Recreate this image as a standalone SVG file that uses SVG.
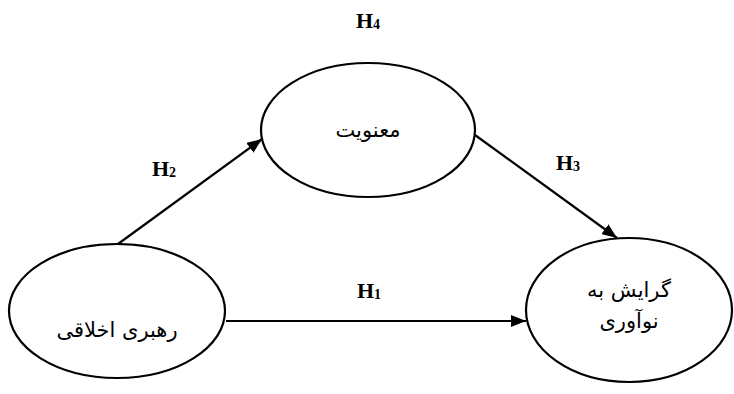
<svg xmlns="http://www.w3.org/2000/svg" width="734" height="394" viewBox="0 0 734 394">
<style>
.node{fill:#fff;stroke:#000;stroke-width:2.2}
.lbl{font-family:"DejaVu Sans",sans-serif;font-size:21px;fill:#000;text-anchor:middle}
.h{font-family:"Liberation Serif",serif;font-size:22px;font-weight:bold;fill:#000;text-anchor:middle}
.sub{font-size:14px}
.edge{stroke:#000;stroke-width:2.2;fill:none;marker-end:url(#arr)}
</style>
<defs>
<marker id="arr" markerWidth="15" markerHeight="12" refX="15" refY="6" orient="auto" markerUnits="userSpaceOnUse" viewBox="0 0 15 12">
<path d="M0,0 L15,6 L0,12 Z" fill="#000"/>
</marker>
</defs>
<g id="connectors">
<line class="edge" x1="118" y1="244" x2="262" y2="139"/>
<line class="edge" x1="475" y1="135" x2="617" y2="238"/>
<line class="edge" x1="226" y1="321" x2="526" y2="321"/>
</g>
<g id="node-spirituality">
<ellipse class="node" cx="368" cy="130" rx="107" ry="67"/>
<text class="lbl" x="368" y="137">معنویت</text>
</g>
<g id="node-ethical-leadership">
<ellipse class="node" cx="117" cy="311" rx="108" ry="67"/>
<text class="lbl" x="117" y="337">رهبری اخلاقی</text>
</g>
<g id="node-innovation">
<ellipse class="node" cx="629" cy="310" rx="103" ry="72"/>
<text class="lbl" x="629" y="297">گرایش به</text>
<text class="lbl" x="629" y="328">نوآوری</text>
</g>
<g id="labels">
<text class="h" x="368" y="28">H<tspan class="sub" dy="1">4</tspan></text>
<text class="h" x="164" y="176">H<tspan class="sub" dy="1">2</tspan></text>
<text class="h" x="568" y="170">H<tspan class="sub" dy="1">3</tspan></text>
<text class="h" x="369" y="298">H<tspan class="sub" dy="1">1</tspan></text>
</g>
</svg>
